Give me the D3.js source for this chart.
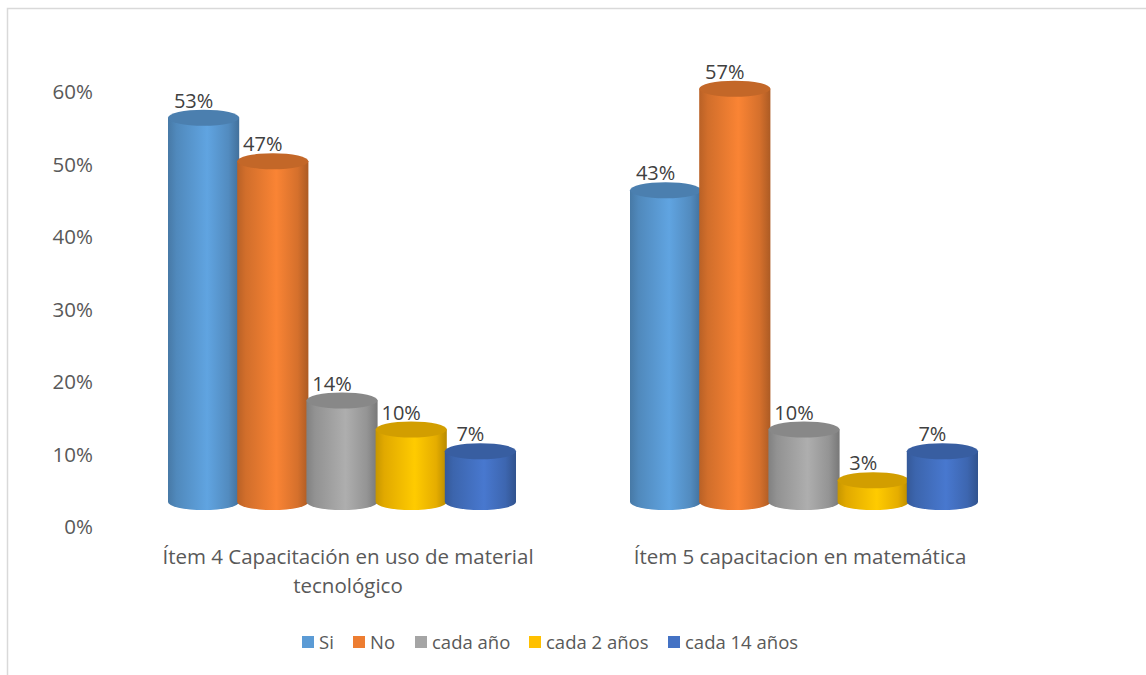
<!DOCTYPE html>
<html><head><meta charset="utf-8">
<script src="https://cdn.jsdelivr.net/npm/d3@7"></script>
<style>body{margin:0;background:#fff;} svg{display:block;font-family:"Open Sans",sans-serif;}</style>
</head><body>
<svg id="c" width="1146" height="675"></svg>
<script>
const categories = ["Ítem 4 Capacitación en uso de material tecnológico", "Ítem 5 capacitacion en matemática"];
const categoryLines = [["Ítem 4 Capacitación en uso de material", "tecnológico"], ["Ítem 5 capacitacion en matemática"]];
const series = ["Si", "No", "cada año", "cada 2 años", "cada 14 años"];
const values = {
  "Si": [0.53, 0.43],
  "No": [0.47, 0.57],
  "cada año": [0.14, 0.10],
  "cada 2 años": [0.10, 0.03],
  "cada 14 años": [0.07, 0.07]
};
const labels = {
  "Si": ["53%", "43%"],
  "No": ["47%", "57%"],
  "cada año": ["14%", "10%"],
  "cada 2 años": ["10%", "3%"],
  "cada 14 años": ["7%", "7%"]
};
const yTicks = [0, 0.1, 0.2, 0.3, 0.4, 0.5, 0.6];
const colors = ["#5b9bd5", "#ed7d31", "#a5a5a5", "#ffc000", "#4472c4"];

const svg = d3.select("#c");
const textColor = "#595959";

// frame
svg.append("path").attr("d", "M7.5,675 L7.5,8.5 L1146,8.5").attr("fill", "none").attr("stroke", "#d9d9d9").attr("stroke-width", 1.5);

const x0 = d3.scaleBand().domain(categories).range([111, 1035]);
const groupW = 346;
const x1 = d3.scaleBand().domain(series).range([0, groupW]);
const y = d3.scaleLinear().domain([0, 0.6]).range([527, 92]);
const depth = 25;
const color = d3.scaleOrdinal().domain(series).range(colors);

// gradients
const defs = svg.append("defs");
series.forEach((s, i) => {
  const c = d3.color(color(s));
  const g = defs.append("linearGradient").attr("id", "g" + i).attr("x1", 0).attr("x2", 1).attr("y1", 0).attr("y2", 0);
  const stops = [[0, c.darker(0.7)], [0.12, c.darker(0.35)], [0.55, c.brighter(0.15)], [0.85, c.darker(0.3)], [1, c.darker(0.9)]];
  stops.forEach(([o, col]) => g.append("stop").attr("offset", o).attr("stop-color", col.formatHex()));
});

// axis labels
const yAxis = d3.axisLeft(y).tickValues(yTicks).tickFormat(d3.format(".0%")).tickSize(0).tickPadding(0);
const ax = svg.append("g").attr("transform", "translate(93,0)").call(yAxis);
ax.select(".domain").remove();
ax.selectAll("text").attr("fill", textColor).attr("font-size", 20.5).attr("font-family", "Open Sans, sans-serif");

// cylinders
const rx = x1.bandwidth() / 2 + 1;
const ry = 8;
categories.forEach((cat, ci) => {
  const gx = x0(cat) + (x0.bandwidth() - groupW) / 2;
  series.forEach((s, si) => {
    const v = values[s][ci];
    const cx = gx + x1(s) + x1.bandwidth() / 2;
    const yb = y(0) - depth;
    const yt = y(v) - depth;
    const g = svg.append("g");
    g.append("path")
      .attr("d", `M${cx - rx},${yt} L${cx - rx},${yb} A${rx},${ry} 0 0 0 ${cx + rx},${yb} L${cx + rx},${yt} Z`)
      .attr("fill", `url(#g${si})`);
    g.append("ellipse").attr("cx", cx).attr("cy", yt).attr("rx", rx).attr("ry", ry)
      .attr("fill", d3.color(color(s)).darker(0.55).formatHex());
    svg.append("text").attr("x", cx - 10).attr("y", yt - 10)
      .attr("text-anchor", "middle").attr("font-size", 20).attr("fill", "#404040")
      .text(labels[s][ci]);
  });
});

// category labels
const catOffset = [6, -4];
categories.forEach((cat, ci) => {
  const cx = x0(cat) + x0.bandwidth() / 2 + catOffset[ci];
  categoryLines[ci].forEach((line, li) => {
    svg.append("text").attr("x", cx).attr("y", 564 + li * 29)
      .attr("text-anchor", "middle").attr("font-size", 20.5).attr("fill", textColor).text(line);
  });
});

// legend
const legendX = [302, 353, 415, 529, 668];
series.forEach((s, i) => {
  const lg = svg.append("g").attr("transform", `translate(${legendX[i]},0)`);
  lg.append("rect").attr("x", 0).attr("y", 636).attr("width", 12).attr("height", 12).attr("fill", color(s));
  lg.append("text").attr("x", 17).attr("y", 649).attr("font-size", 18.5).attr("fill", textColor).text(s);
});
</script>
</body></html>
